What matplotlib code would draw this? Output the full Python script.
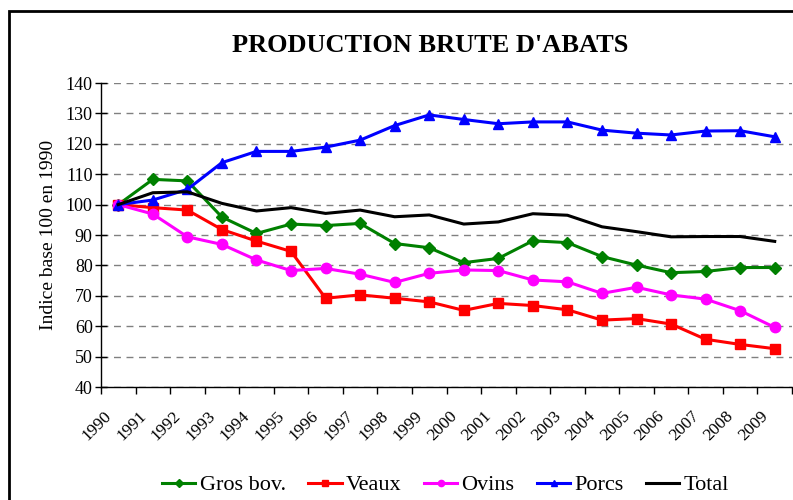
import matplotlib

matplotlib.use("Agg")
import matplotlib.pyplot as plt
import matplotlib.transforms as mtransforms
from matplotlib.patches import Rectangle
import numpy as np

years = [str(y) for y in range(1990, 2010)]

gros_bov = [100, 108.3, 107.8, 95.9, 90.5, 93.6, 93.1, 93.8, 87.2, 85.8,
            80.9, 82.3, 88.1, 87.5, 82.9, 80.1, 77.6, 78.0, 79.3, 79.3]
veaux = [100, 99.0, 98.2, 91.8, 88.0, 84.6, 69.2, 70.3, 69.2, 68.0,
         65.2, 67.5, 66.8, 65.4, 62.0, 62.5, 60.7, 55.7, 54.0, 52.6]
ovins = [100, 96.9, 89.4, 86.9, 81.8, 78.3, 79.0, 77.1, 74.4, 77.4,
         78.5, 78.3, 75.2, 74.6, 70.8, 72.8, 70.3, 68.9, 65.1, 59.6]
porcs = [100, 101.5, 105.0, 113.8, 117.5, 117.5, 118.9, 121.2, 126.0, 129.5,
         128.0, 126.6, 127.2, 127.2, 124.5, 123.5, 122.9, 124.2, 124.3, 122.3]
total = [100, 103.9, 104.2, 100.4, 97.9, 99.0, 97.1, 98.2, 96.0, 96.6,
         93.6, 94.3, 97.0, 96.5, 92.7, 91.1, 89.4, 89.5, 89.5, 87.9]

series = [
    ("Gros bov.", gros_bov, "#008000", "D", 6.5),
    ("Veaux", veaux, "#FF0000", "s", 7.5),
    ("Ovins", ovins, "#FF00FF", "o", 7.5),
    ("Porcs", porcs, "#0000FF", "^", 7.5),
    ("Total", total, "#000000", None, 0),
]

plt.rcParams["font.family"] = ["Liberation Serif", "DejaVu Serif"]

fig = plt.figure(figsize=(7.93, 5.0), dpi=100)
ax = fig.add_axes([101 / 793, 1 - 387 / 500, 691 / 793, 304 / 500])

x = np.arange(len(years))
for label, vals, col, mk, ms in series:
    ax.plot(x, vals, color=col, lw=2.2, marker=mk, ms=ms, mec=col, mfc=col,
            label=label, zorder=3)

ax.set_xlim(-0.5, len(years) - 0.5)
ax.set_ylim(40, 140)
ax.set_yticks(np.arange(40, 141, 10))
ax.yaxis.grid(True, color="#808080", ls=(0, (5, 4)), lw=1.0)
ax.set_axisbelow(True)

# ticks between categories, labels at category centres
ax.set_xticks(np.arange(-0.5, len(years), 1.0))
ax.set_xticklabels([])
ax.set_xticks(x, minor=True)
ax.set_xticklabels(years, minor=True, rotation=45, ha="right", va="center",
                   rotation_mode="anchor", fontsize=12.5)
ax.tick_params(axis="x", which="minor", length=0, pad=19)
ax.tick_params(axis="x", which="major", direction="out", length=5, width=1)
ax.tick_params(axis="y", direction="inout", length=8, width=1, labelsize=13, pad=2)
shift = mtransforms.ScaledTranslation(-9 / 100, 0, fig.dpi_scale_trans)
for t in ax.get_xticklabels(minor=True):
    t.set_transform(t.get_transform() + shift)

for s in ("top", "right"):
    ax.spines[s].set_visible(False)
for s in ("left", "bottom"):
    ax.spines[s].set_linewidth(1.0)

ax.set_ylabel("Indice base 100 en 1990", fontsize=14, labelpad=6)
fig.text(0.542, 0.91, "PRODUCTION BRUTE D'ABATS", ha="center", va="center",
         fontsize=19, fontweight="bold")

ax.legend(loc="center", bbox_to_anchor=(0.562, 1 - 485 / 500), bbox_transform=fig.transFigure,
          ncol=5, frameon=False, fontsize=16, handlelength=1.5, handletextpad=0.2,
          columnspacing=1.0, markerscale=0.6)

fig.patches.append(Rectangle((9 / 793, -0.1), 1.0, 1 - 11 / 500 + 0.1,
                             transform=fig.transFigure, fill=False, ec="black", lw=2.0))

fig.savefig("out.png", dpi=100)
